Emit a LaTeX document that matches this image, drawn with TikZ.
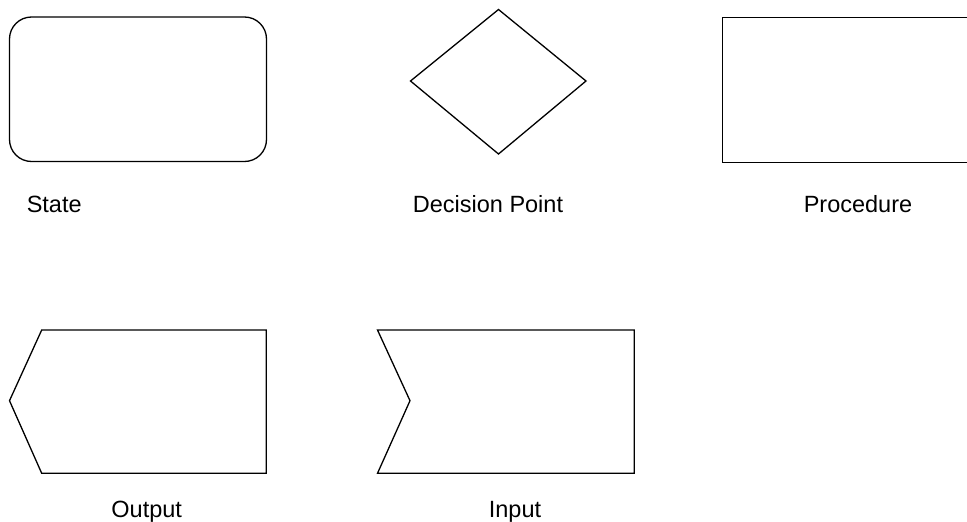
\documentclass[tikz,border=0pt]{standalone}
\usepackage{fontspec}
\setmainfont{Liberation Sans}
\begin{document}
\begin{tikzpicture}[x=1pt,y=-1pt,
  shapeline/.style={draw=black,line width=1.3pt,line join=miter},
  lbl/.style={anchor=base,inner sep=0pt,font=\fontsize{23.5}{28}\selectfont,text=black}]
\useasboundingbox (0,0) rectangle (967,522);
\begin{scope}
\clip (0,0) rectangle (967,522);
% State
\draw[shapeline,rounded corners=22pt] (9.5,17) rectangle (266.5,161.5);
% Decision
\draw[shapeline] (498.5,9.5) -- (586,81) -- (498.5,154) -- (410.5,81) -- cycle;
% Procedure (right edge beyond the picture)
\draw[shapeline] (975,17.3) -- (722.3,17.3) -- (722.3,162.3) -- (975,162.3);
% Output
\draw[shapeline] (41.7,330) -- (266.3,330) -- (266.3,473.3) -- (41.7,473.3) -- (9.5,400.7) -- cycle;
% Input
\draw[shapeline] (377.5,330) -- (634.3,330) -- (634.3,473.3) -- (377.5,473.3) -- (410,400.7) -- cycle;
\end{scope}
\node[lbl] (tstate) at (54.2,212.5) {State};
\node[lbl] (tdec) at (488,212.5) {Decision Point};
\node[lbl] (tproc) at (858,212.5) {Procedure};
\node[lbl] (tout) at (146.7,517.5) {Output};
\node[lbl] (tin) at (515,517.5) {Input};
\end{tikzpicture}
\end{document}
